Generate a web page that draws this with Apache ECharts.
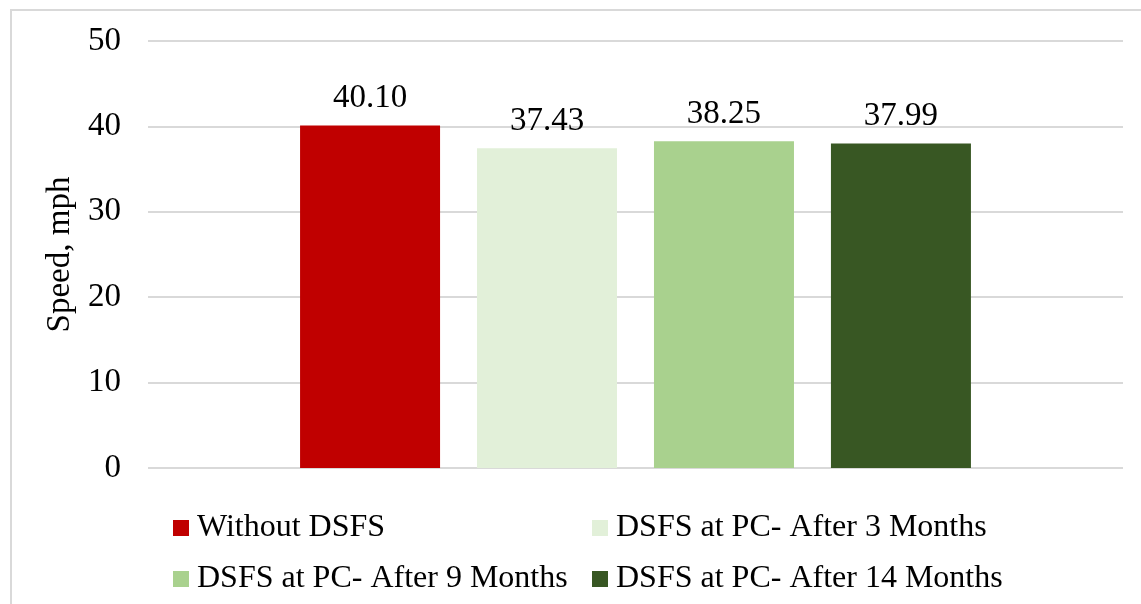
<!DOCTYPE html>
<html>
<head>
<meta charset="utf-8">
<script src="https://cdn.jsdelivr.net/npm/echarts@6/dist/echarts.min.js"></script>
<style>
html,body{margin:0;padding:0;background:#fff;}
#chart{width:1141px;height:604px;}
</style>
</head>
<body>
<div id="chart"></div>
<script>
var seriesNames = ['Without DSFS', 'DSFS at PC- After 3 Months', 'DSFS at PC- After 9 Months', 'DSFS at PC- After 14 Months'];
var seriesValues = [40.10, 37.43, 38.25, 37.99];
var seriesColors = ['#C00000', '#E2F0D9', '#A9D18E', '#385723'];
var categories = [''];
var yTicks = [0, 10, 20, 30, 40, 50];

var FONT = 'Liberation Serif';
var chart = echarts.init(document.getElementById('chart'), null, {renderer: 'canvas'});

var series = seriesNames.map(function (n, i) {
  return {
    name: n,
    type: 'bar',
    data: [seriesValues[i]],
    barWidth: 140,
    barGap: '26.4%',
    itemStyle: {color: seriesColors[i]},
    label: {
      show: true,
      position: 'top',
      distance: 11,
      formatter: function (p) { return p.value.toFixed(2); },
      fontFamily: FONT,
      fontSize: 33,
      color: '#000'
    }
  };
});

var legendPos = [
  {left: 173, top: 512},
  {left: 592, top: 512},
  {left: 173, top: 563},
  {left: 592, top: 563}
];
var legends = seriesNames.map(function (n, i) {
  return {
    data: [n],
    left: legendPos[i].left,
    top: legendPos[i].top,
    padding: 0,
    itemWidth: 16,
    itemHeight: 16,
    icon: 'rect',
    selectedMode: false,
    textStyle: {fontFamily: FONT, fontSize: 32, color: '#000', padding: [0, 0, 0, 3]}
  };
});

chart.setOption({
  animation: false,
  backgroundColor: '#fff',
  graphic: [{
    type: 'rect',
    shape: {x: 11, y: 10, width: 1140, height: 600},
    style: {fill: 'none', stroke: '#d9d9d9', lineWidth: 2},
    silent: true,
    z: -1
  }],
  grid: {left: 148, right: 18, top: 41, bottom: 136},
  legend: legends,
  xAxis: {
    type: 'category',
    data: categories,
    axisLine: {show: false},
    axisTick: {show: false},
    axisLabel: {show: false}
  },
  yAxis: {
    type: 'value',
    min: yTicks[0],
    max: yTicks[yTicks.length - 1],
    interval: 10,
    name: 'Speed, mph',
    nameLocation: 'middle',
    nameRotate: 90,
    nameGap: 67,
    nameTextStyle: {fontFamily: FONT, fontSize: 33, color: '#000'},
    axisLine: {show: false},
    axisTick: {show: false},
    axisLabel: {fontFamily: FONT, fontSize: 33, color: '#000', margin: 27},
    splitLine: {lineStyle: {color: '#d9d9d9', width: 2}}
  },
  series: series
});
</script>
</body>
</html>
